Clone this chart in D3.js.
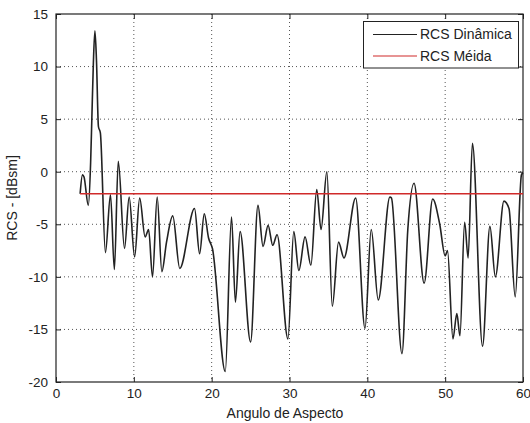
<!DOCTYPE html>
<html>
<head>
<meta charset="utf-8">
<script src="https://cdn.jsdelivr.net/npm/d3@7"></script>
<style>
  html, body { margin: 0; padding: 0; background: #ffffff; }
  svg text { font-family: "Liberation Sans", Arial, sans-serif; }
</style>
</head>
<body>
<svg id="chart" width="530" height="423"></svg>
<script>
// ---- Data ----
const angles = [3.1, 3.4, 3.6, 4.15, 4.45, 4.6, 4.8, 5.0, 5.2, 5.45, 5.7, 6.35, 7.0, 7.5, 8.0, 8.8, 9.4, 10.1, 10.75,
  11.45, 11.9, 12.4, 13.0, 13.6, 14.2, 15.0, 15.9, 17.8, 18.45, 19.05, 19.6, 20.1, 21.75, 22.55, 23.05, 23.65,
  25.0, 25.95, 26.6, 27.25, 27.85, 28.4, 29.8, 30.55, 31.2, 32.0, 32.75, 33.5, 34.05, 34.8, 35.5, 36.3, 37.0,
  38.5, 39.7, 40.5, 41.4, 42.9, 43.1, 44.45, 45.2, 46.0, 47.3, 48.4, 49.3, 50.0, 50.3, 51.0, 51.5, 51.9, 52.5,
  52.95, 53.5, 54.8, 55.75, 56.45, 57.55, 58.2, 59.0, 59.8, 60.0];
const rcsDynamic = [-2.1, -0.3, -0.5, -3.2, 0.9, 4.9, 10.3, 13.4, 10.6, 4.3, 3.7, -7.7, -2.2, -9.3, 1.0, -7.3, -2.4, -8.1, -2.5,
  -6.2, -5.5, -10.0, -2.4, -9.5, -6.7, -4.2, -9.2, -3.5, -7.8, -4.0, -6.3, -7.3, -19.0, -4.3, -12.4, -5.7,
  -16.2, -3.2, -7.1, -5.1, -7.0, -6.0, -15.9, -5.7, -9.4, -6.2, -8.9, -1.7, -5.5, 0.0, -12.8, -6.7, -8.2,
  -2.5, -14.9, -5.5, -12.2, -2.4, -2.5, -17.3, -5.5, -1.1, -10.6, -2.6, -5.0, -8.0, -7.5, -15.9, -13.5, -15.6, -4.8,
  -8.2, 2.7, -16.6, -5.2, -10.0, -2.8, -3.5, -11.9, -0.3, -0.1];
const meanAngles = [3.1, 60];
const rcsMean = [-2.1, -2.1];
const xTicks = [0, 10, 20, 30, 40, 50, 60];
const yTicks = [-20, -15, -10, -5, 0, 5, 10, 15];
const seriesNames = ["RCS Dinâmica", "RCS Méida"];
const seriesColors = ["#222222", "#d02a2a"];

// ---- Layout ----
const svg = d3.select("#chart");
const L = 56, R = 523, T = 14, B = 382;
const x = d3.scaleLinear().domain([0, 60]).range([L, R]);
const y = d3.scaleLinear().domain([-20, 15]).range([B, T]);

// grid
const grid = svg.append("g");
grid.selectAll("line.vx").data(xTicks.filter(d => d > 0 && d < 60)).enter().append("line")
  .attr("x1", d => x(d)).attr("x2", d => x(d)).attr("y1", T).attr("y2", B)
  .attr("stroke", "#555").attr("stroke-width", 1).attr("stroke-dasharray", "1,3");
grid.selectAll("line.hy").data(yTicks.filter(d => d > -20 && d < 15)).enter().append("line")
  .attr("y1", d => y(d)).attr("y2", d => y(d)).attr("x1", L).attr("x2", R)
  .attr("stroke", "#555").attr("stroke-width", 1).attr("stroke-dasharray", "1,3");

// axes (MATLAB-style inward ticks)
const fs = 13.5;
const xb = svg.append("g").attr("transform", `translate(0,${B})`)
  .call(d3.axisBottom(x).tickValues(xTicks).tickSizeInner(-5).tickSizeOuter(0).tickPadding(6));
const xt = svg.append("g").attr("transform", `translate(0,${T})`)
  .call(d3.axisTop(x).tickValues(xTicks).tickSizeInner(-5).tickSizeOuter(0).tickFormat(""));
const yl = svg.append("g").attr("transform", `translate(${L},0)`)
  .call(d3.axisLeft(y).tickValues(yTicks).tickSizeInner(-5).tickSizeOuter(0).tickPadding(8)
    .tickFormat(d => String(d)));
const yr = svg.append("g").attr("transform", `translate(${R},0)`)
  .call(d3.axisRight(y).tickValues(yTicks).tickSizeInner(-5).tickSizeOuter(0).tickFormat(""));
[xb, xt, yl, yr].forEach(g => {
  g.selectAll(".domain").remove();
  g.selectAll(".tick line").attr("stroke", "#222");
  g.selectAll("text").attr("font-size", fs).attr("fill", "#222")
    .attr("font-family", "Liberation Sans, Arial, sans-serif");
});
xb.selectAll("text").attr("dy", "0.71em");

// box
svg.append("rect").attr("x", L).attr("y", T).attr("width", R - L).attr("height", B - T)
  .attr("fill", "none").attr("stroke", "#222").attr("stroke-width", 1.2);

// series lines
const pts = angles.map((a, i) => [a, rcsDynamic[i]]);
const line = d3.line().x(d => x(d[0])).y(d => y(d[1])).curve(d3.curveMonotoneX);
svg.append("path").datum(pts).attr("d", line)
  .attr("fill", "none").attr("stroke", seriesColors[0]).attr("stroke-width", 1.6);
const mpts = meanAngles.map((a, i) => [a, rcsMean[i]]);
svg.append("path").datum(mpts).attr("d", d3.line().x(d => x(d[0])).y(d => y(d[1])))
  .attr("fill", "none").attr("stroke", seriesColors[1]).attr("stroke-width", 1.4);

// labels
svg.append("text").attr("x", 285).attr("y", 418).attr("text-anchor", "middle")
  .attr("font-size", 14).attr("fill", "#222").text("Angulo de Aspecto");
svg.append("text").attr("transform", `translate(17,${(T + B) / 2}) rotate(-90)`)
  .attr("text-anchor", "middle").attr("font-size", 14).attr("fill", "#222").text("RCS - [dBsm]");

// legend
const lg = svg.append("g");
lg.append("rect").attr("x", 363.5).attr("y", 21.5).attr("width", 155).attr("height", 46.5)
  .attr("fill", "#fff").attr("stroke", "#222").attr("stroke-width", 1);
seriesNames.forEach((n, i) => {
  const yy = 34.5 + i * 21.5;
  lg.append("line").attr("x1", 373).attr("x2", 417).attr("y1", yy).attr("y2", yy)
    .attr("stroke", seriesColors[i]).attr("stroke-width", 1.2);
  lg.append("text").attr("x", 420).attr("y", yy).attr("dy", "0.35em")
    .attr("font-size", 14).attr("fill", "#222").text(n);
});
</script>
</body>
</html>
